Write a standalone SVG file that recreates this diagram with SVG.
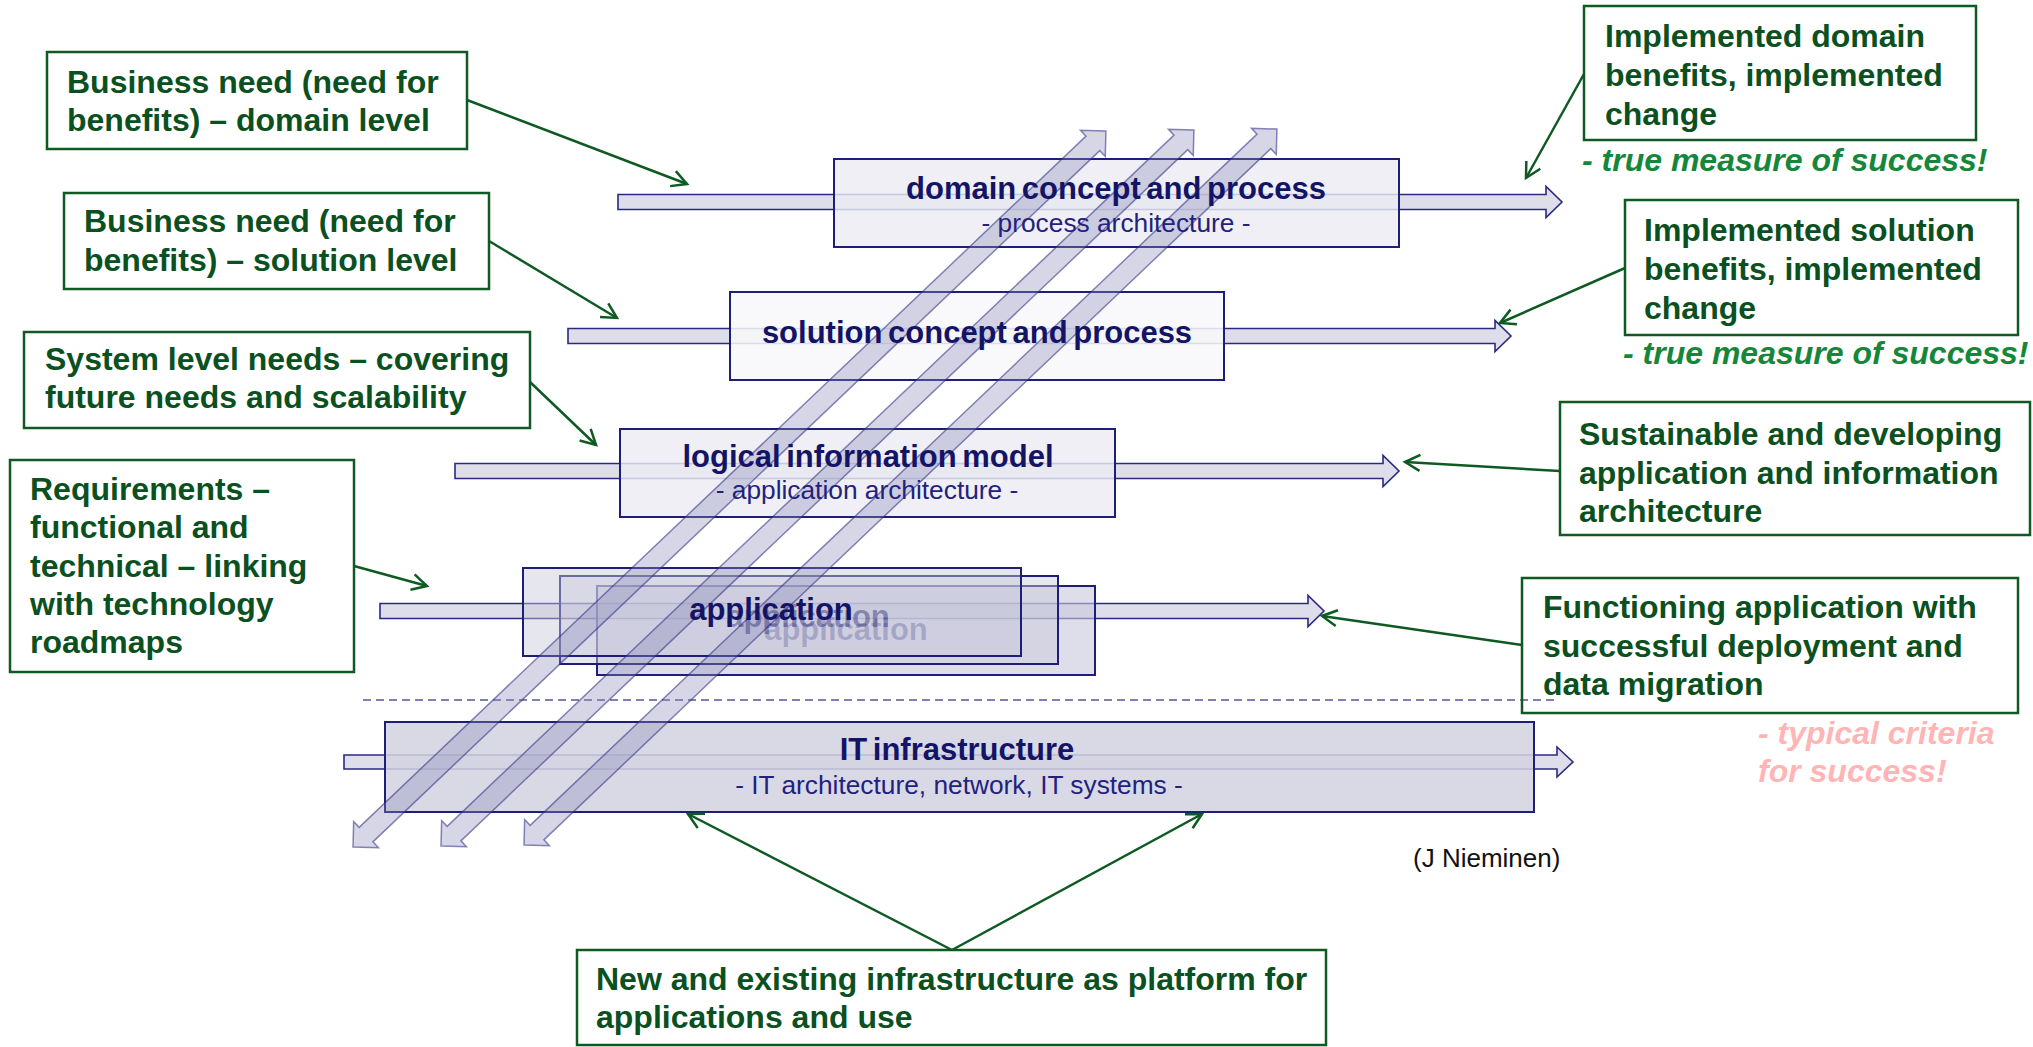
<svg xmlns="http://www.w3.org/2000/svg" width="2033" height="1047" viewBox="0 0 2033 1047">
  <style>
    .harrow { fill: #dedeea; stroke: #2a2a82; stroke-width: 1.6; }
    .bbox { stroke: #1e1e78; stroke-width: 2; }
    .diag { fill: #8c8cbc; fill-opacity: 0.36; stroke: #2a2a82; stroke-opacity: 0.55; stroke-width: 1.5; }
    .btitle { font-family: "Liberation Sans", Arial, sans-serif; font-weight: bold; font-size: 31px; fill: #141466; text-anchor: middle; word-spacing: -3px; }
    .bsub { font-family: "Liberation Sans", Arial, sans-serif; font-size: 26.3px; fill: #22227e; text-anchor: middle; }
    .gbox { fill: none; stroke: #0e5a22; stroke-width: 2.5; }
    .gtext { font-family: "Liberation Sans", Arial, sans-serif; font-weight: bold; font-size: 32px; fill: #0b5020; }
    .gnote { font-family: "Liberation Sans", Arial, sans-serif; font-weight: bold; font-style: italic; font-size: 32px; fill: #15873a; }
    .pnote { font-family: "Liberation Sans", Arial, sans-serif; font-weight: bold; font-style: italic; font-size: 32px; fill: #ffb5b5; }
    .credit { font-family: "Liberation Sans", Arial, sans-serif; font-size: 26px; fill: #111111; }
    .conn { fill: none; stroke: #0e5a22; stroke-width: 2.5; marker-end: url(#open); }
  </style>
  <defs>
    <marker id="open" markerUnits="userSpaceOnUse" markerWidth="24" markerHeight="24" viewBox="0 0 24 24" refX="20" refY="12" orient="auto">
      <path d="M5,4 L20,12 L5,20" fill="none" stroke="#0e5a22" stroke-width="2.5"/>
    </marker>
    <!-- double-headed block arrow along +x, length 1039 -->
    <polygon id="diagArrow" points="0,0 18,-18 18,-10 1021,-10 1021,-18 1039,0 1021,18 1021,10 18,10 18,18"/>
  </defs>

  <rect width="2033" height="1047" fill="#ffffff"/>

  <!-- horizontal flow arrows behind the layers -->
  <g id="flow-arrows">
    <polygon class="harrow" points="618,194.5 1546,194.5 1546,186.5 1562,202 1546,217.5 1546,209.5 618,209.5"/>
    <polygon class="harrow" points="568,328.5 1495,328.5 1495,320.5 1511,336 1495,351.5 1495,343.5 568,343.5"/>
    <polygon class="harrow" points="455,463.5 1383,463.5 1383,455.5 1399,471 1383,486.5 1383,478.5 455,478.5"/>
    <polygon class="harrow" points="380,603.5 1308,603.5 1308,595.5 1324,611 1308,626.5 1308,618.5 380,618.5"/>
    <polygon class="harrow" points="344,755 1557,755 1557,747 1573,762 1557,777 1557,769 344,769"/>
  </g>

  <!-- layer boxes -->
  <g id="domain">
    <rect class="bbox" x="834" y="159" width="565" height="88" fill="#ececf3" fill-opacity="0.82"/>
  </g>
  <g id="solution">
    <rect class="bbox" x="730" y="292" width="494" height="88" fill="#f8f8fa" fill-opacity="0.86"/>
  </g>
  <g id="logical">
    <rect class="bbox" x="620" y="429" width="495" height="88" fill="#ececf3" fill-opacity="0.82"/>
  </g>
  <g id="application">
    <rect class="bbox" x="597" y="586" width="498" height="89" fill="#c8c8dc" fill-opacity="0.6"/>
    <rect class="bbox" x="560" y="576" width="498" height="88" fill="#c8c8dc" fill-opacity="0.45"/>
    <rect class="bbox" x="523" y="568" width="498" height="88" fill="#c8c8dc" fill-opacity="0.45"/>
  </g>
  <g id="infrastructure">
    <rect class="bbox" x="385" y="722" width="1149" height="90" fill="#d2d2e2" fill-opacity="0.85"/>
  </g>

  <!-- boundary between application and infrastructure -->
  <line x1="363" y1="700" x2="1558" y2="700" stroke="#7f80b5" stroke-width="2" stroke-dasharray="8,5"/>

  <!-- cross-layer diagonal arrows -->
  <g id="diagonals">
    <use href="#diagArrow" class="diag" transform="translate(353,847) rotate(-43.56)"/>
    <use href="#diagArrow" class="diag" transform="translate(441,846) rotate(-43.56)"/>
    <use href="#diagArrow" class="diag" transform="translate(524,845) rotate(-43.56)"/>
  </g>

  <!-- layer labels -->
  <g id="layer-labels">
    <text class="btitle" x="1116" y="199">domain concept and process</text>
    <text class="bsub" x="1116" y="232">- process architecture -</text>
    <text class="btitle" x="977" y="343">solution concept and process</text>
    <text class="btitle" x="868" y="467">logical information model</text>
    <text class="bsub" x="867" y="499">- application architecture -</text>
    <text class="btitle" x="846" y="640" fill-opacity="0.22">application</text>
    <text class="btitle" x="808" y="627" fill-opacity="0.4">application</text>
    <text class="btitle" x="771" y="620">application</text>
    <text class="btitle" x="957" y="760">IT infrastructure</text>
    <text class="bsub" x="959" y="794">- IT architecture, network, IT systems -</text>
  </g>

  <!-- needs (left side) -->
  <g id="need-domain">
    <rect class="gbox" x="47" y="52" width="420" height="97"/>
    <text class="gtext" x="67" y="93">Business need (need for</text>
    <text class="gtext" x="67" y="131">benefits) – domain level</text>
  </g>
  <g id="need-solution">
    <rect class="gbox" x="64" y="193" width="425" height="96"/>
    <text class="gtext" x="84" y="232">Business need (need for</text>
    <text class="gtext" x="84" y="271">benefits) – solution level</text>
  </g>
  <g id="need-system">
    <rect class="gbox" x="24" y="332" width="506" height="96"/>
    <text class="gtext" x="45" y="370">System level needs – covering</text>
    <text class="gtext" x="45" y="408">future needs and scalability</text>
  </g>
  <g id="requirements">
    <rect class="gbox" x="10" y="460" width="344" height="212"/>
    <text class="gtext" x="30" y="500">Requirements –</text>
    <text class="gtext" x="30" y="538">functional and</text>
    <text class="gtext" x="30" y="577">technical – linking</text>
    <text class="gtext" x="30" y="615">with technology</text>
    <text class="gtext" x="30" y="653">roadmaps</text>
  </g>

  <!-- outcomes (right side) -->
  <g id="benefit-domain">
    <rect class="gbox" x="1584" y="6" width="392" height="134"/>
    <text class="gtext" x="1605" y="47">Implemented domain</text>
    <text class="gtext" x="1605" y="86">benefits, implemented</text>
    <text class="gtext" x="1605" y="125">change</text>
    <text class="gnote" x="1582" y="171">- true measure of success!</text>
  </g>
  <g id="benefit-solution">
    <rect class="gbox" x="1625" y="200" width="393" height="135"/>
    <text class="gtext" x="1644" y="241">Implemented solution</text>
    <text class="gtext" x="1644" y="280">benefits, implemented</text>
    <text class="gtext" x="1644" y="319">change</text>
    <text class="gnote" x="1623" y="364">- true measure of success!</text>
  </g>
  <g id="sustainable-architecture">
    <rect class="gbox" x="1560" y="402" width="470" height="133"/>
    <text class="gtext" x="1579" y="445">Sustainable and developing</text>
    <text class="gtext" x="1579" y="484">application and information</text>
    <text class="gtext" x="1579" y="522">architecture</text>
  </g>
  <g id="functioning-application">
    <rect class="gbox" x="1522" y="578" width="496" height="135"/>
    <text class="gtext" x="1543" y="618">Functioning application with</text>
    <text class="gtext" x="1543" y="657">successful deployment and</text>
    <text class="gtext" x="1543" y="695">data migration</text>
    <text class="pnote" x="1758" y="744">- typical criteria</text>
    <text class="pnote" x="1758" y="782">for success!</text>
  </g>
  <g id="platform">
    <rect class="gbox" x="577" y="950" width="749" height="95"/>
    <text class="gtext" x="596" y="990">New and existing infrastructure as platform for</text>
    <text class="gtext" x="596" y="1028">applications and use</text>
  </g>

  <text class="credit" x="1413" y="867">(J Nieminen)</text>

  <!-- pointers from notes to layers -->
  <g id="connectors">
    <line class="conn" x1="467" y1="100" x2="687" y2="184"/>
    <line class="conn" x1="489" y1="241" x2="617" y2="318"/>
    <line class="conn" x1="530" y1="382" x2="596" y2="445"/>
    <line class="conn" x1="354" y1="566" x2="427" y2="586"/>
    <line class="conn" x1="1584" y1="74" x2="1526" y2="178"/>
    <line class="conn" x1="1625" y1="268" x2="1500" y2="323"/>
    <line class="conn" x1="1560" y1="471" x2="1405" y2="462"/>
    <line class="conn" x1="1522" y1="645" x2="1322" y2="616"/>
    <line class="conn" x1="952" y1="950" x2="688" y2="814"/>
    <line class="conn" x1="952" y1="950" x2="1202" y2="814"/>
  </g>
</svg>
